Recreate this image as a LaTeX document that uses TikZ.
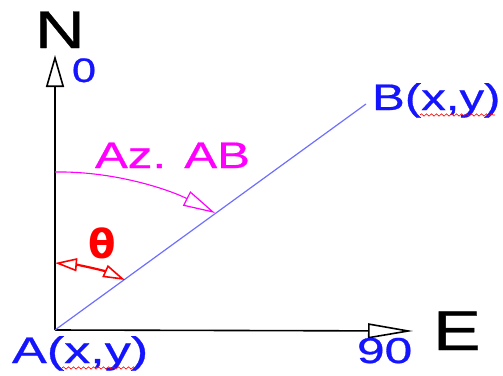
\documentclass[tikz,border=0pt]{standalone}
\usepackage{fontspec}
\setmainfont{Liberation Sans}[FakeBold=0.6]
\newfontfamily\thetafont{DejaVu Sans}
\usetikzlibrary{arrows.meta,decorations.pathmorphing}
\definecolor{txtblue}{RGB}{20,20,255}
\definecolor{lineblue}{RGB}{110,110,255}
\definecolor{azmag}{RGB}{255,0,255}
\definecolor{thred}{RGB}{255,0,0}
\tikzset{
  lbl/.style={inner sep=0pt, outer sep=0pt, anchor=base west},
  axisline/.style={line width=1.6pt, black},
  squiggle/.style={thred, line width=0.6pt, decorate, decoration={snake, amplitude=1.2pt, segment length=5pt}},
}
\newcommand{\wide}[2][1.38]{\scalebox{#1}[1]{#2}}
\begin{document}
\begin{tikzpicture}[x=1pt,y=-1pt]
\useasboundingbox (0,0) rectangle (503,375);
% points
\coordinate (A) at (55,330);
\coordinate (Ntip) at (55,55);
\coordinate (Etip) at (413,331);
\coordinate (B) at (366,104);
\coordinate (az0) at (55,172);
\coordinate (az1) at (215,213);
\coordinate (th0) at (55,263);
\coordinate (th1) at (125,280);
% axes
\draw[axisline, -{Triangle[open, length=32pt, width=18pt, line width=1.6pt]}] (A) -- (Ntip);
\draw[axisline, -{Triangle[open, length=45pt, width=15pt, line width=1.6pt]}] (A) -- (Etip);
% line AB
\draw[lineblue, line width=1.2pt] (A) -- (B);
% azimuth arc
\draw[azmag, line width=1.1pt, -{Triangle[open, length=32pt, width=16pt, line width=1.2pt]}]
  (az0) .. controls (115,171) and (170,190) .. (az1);
% theta arc
\draw[thred, line width=2.2pt, {Triangle[open, length=22pt, width=13pt, line width=1.6pt]}-{Triangle[open, length=22pt, width=13pt, line width=1.6pt]}]
  (th0) .. controls (80,265) and (105,271) .. (th1);
% labels
\node[lbl] (Nl) at (35,48) {\fontsize{53}{53}\selectfont\wide[1.3]{N}};
\node[lbl, txtblue] (zero) at (72,82) {\fontsize{34}{34}\selectfont\wide[1.27]{0}};
\node[lbl] (El) at (433,350) {\fontsize{56}{56}\selectfont\wide[1.28]{E}};
\node[lbl, txtblue] (ninety) at (357,363) {\fontsize{36}{36}\selectfont\wide[1.38]{90}};
\node[lbl, txtblue] (Al) at (12,363) {\fontsize{37}{37}\selectfont\wide[1.41]{A(x,y)}};
\node[lbl, txtblue] (Bl) at (372,110) {\fontsize{37}{37}\selectfont\wide[1.33]{B(x,y)}};
\node[lbl, azmag] (azl) at (95,168) {\fontsize{37}{37}\selectfont\wide[1.33]{Az. AB}};
\node[thred, inner sep=0pt] (th) at (102,243) {\fontsize{40}{40}\selectfont\thetafont\bfseries θ};
% spell-check squiggles
\coordinate (sqA0) at (62,368);
\coordinate (sqA1) at (136,368);
\coordinate (sqB0) at (420,115);
\coordinate (sqB1) at (495,115);
\draw[squiggle] (sqA0) -- (sqA1);
\draw[squiggle] (sqB0) -- (sqB1);
\end{tikzpicture}
\end{document}
